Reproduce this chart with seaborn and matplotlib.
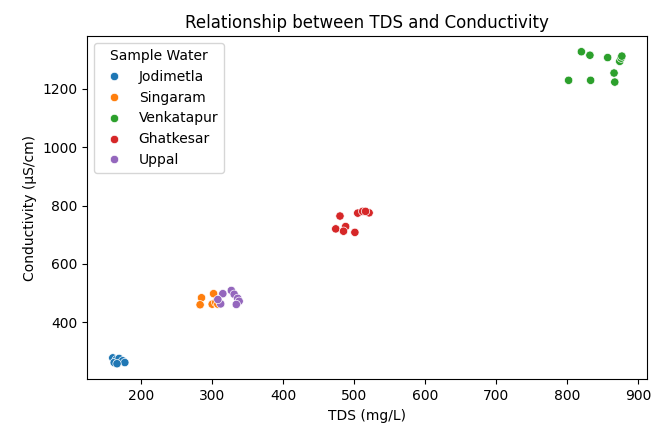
import numpy as np
import pandas as pd
import matplotlib
matplotlib.use('Agg')
import matplotlib.pyplot as plt
import seaborn as sns

# Değerler
sites = ['Jodimetla', 'Singaram', 'Venkatapur', 'Ghatkesar', 'Uppal']

jodimetla_tds = [160, 165, 162, 169, 174, 177, 166]
jodimetla_cond = [278, 272, 262, 276, 268, 262, 258]

singaram_tds = [285, 283, 302, 300, 305, 308]
singaram_cond = [484, 460, 498, 462, 468, 462]

venkatapur_tds = [802, 820, 832, 833, 857, 866, 867, 874, 876, 877]
venkatapur_cond = [1229, 1327, 1315, 1229, 1307, 1254, 1223, 1294, 1305, 1312]

ghatkesar_tds = [480, 505, 512, 521, 516, 474, 488, 485, 501]
ghatkesar_cond = [764, 774, 780, 775, 780, 720, 728, 712, 708]

uppal_tds = [315, 327, 331, 336, 338, 334, 312, 308]
uppal_cond = [498, 509, 496, 482, 472, 461, 463, 478]

tds = [jodimetla_tds, singaram_tds, venkatapur_tds, ghatkesar_tds, uppal_tds]
cond = [jodimetla_cond, singaram_cond, venkatapur_cond, ghatkesar_cond, uppal_cond]

rows = []
for name, t, c in zip(sites, tds, cond):
    for a, b in zip(t, c):
        rows.append({'Sample Water': name, 'TDS': a, 'Conductivity': b})
df = pd.DataFrame(rows)

fig = plt.figure(figsize=(6.53, 4.25), dpi=100)
ax = fig.add_axes([0.1337, 0.1075, 0.8576, 0.8075])
sns.scatterplot(data=df, x='TDS', y='Conductivity', hue='Sample Water', ax=ax)
ax.set_title('Relationship between TDS and Conductivity')
ax.set_xlabel('TDS (mg/L)')
ax.set_ylabel('Conductivity (µS/cm)')
ax.legend(title='Sample Water', loc='upper left')
fig.savefig('out.png', dpi=100)
